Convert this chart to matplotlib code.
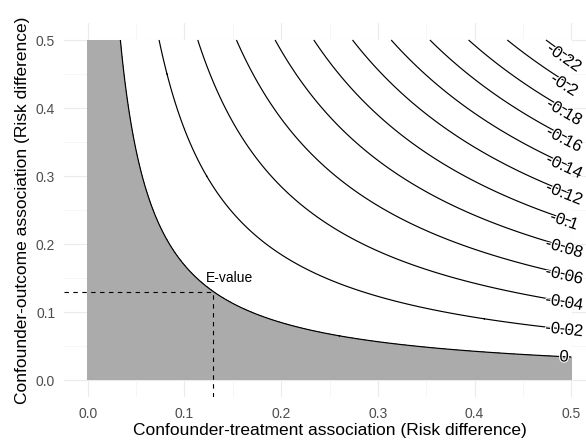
import numpy as np
import matplotlib
matplotlib.use("Agg")
import matplotlib.pyplot as plt
import matplotlib.patheffects as pe

plt.rcParams['font.family'] = ['Liberation Sans', 'DejaVu Sans']

# observed risk difference and its E-value
rd_observed = 0.0169
e_value = 0.13

# contour levels of the bias-adjusted risk difference
contour_levels = [-0.22, -0.2, -0.18, -0.16, -0.14, -0.12, -0.1,
                  -0.08, -0.06, -0.04, -0.02, 0]
contour_labels = ['-0.22', '-0.2', '-0.18', '-0.16', '-0.14', '-0.12', '-0.1',
                  '-0.08', '-0.06', '-0.04', '-0.02', '0']

x_ticks = [0.0, 0.1, 0.2, 0.3, 0.4, 0.5]
y_ticks = [0.0, 0.1, 0.2, 0.3, 0.4, 0.5]
tick_labels = ['0.0', '0.1', '0.2', '0.3', '0.4', '0.5']

# grid of confounder associations
grid = np.linspace(0, 0.5, 501)
xx, yy = np.meshgrid(grid, grid)
adjusted = rd_observed - xx * yy

fig = plt.figure(figsize=(5.86, 4.42), dpi=100)
# panel runs a little past the right edge (image is cropped there)
ax = fig.add_axes([63.5 / 586, 45 / 442, 532 / 586, 374 / 442])
ax.set_xlim(-0.025, 0.525)
ax.set_ylim(-0.025, 0.525)

# theme_minimal-like grid
for v in x_ticks:
    ax.axvline(v, color='#EBEBEB', lw=0.8, zorder=0)
for v in y_ticks:
    ax.axhline(v, color='#EBEBEB', lw=0.8, zorder=0)
for v in np.array(x_ticks[:-1]) + 0.05:
    ax.axvline(v, color='#F2F2F2', lw=0.45, zorder=0)
for v in np.array(y_ticks[:-1]) + 0.05:
    ax.axhline(v, color='#F2F2F2', lw=0.45, zorder=0)

ax.contourf(xx, yy, adjusted, levels=[adjusted.min() - 1, 0, adjusted.max() + 1],
            colors=['white', '#ABABAB'], zorder=1)
cs = ax.contour(xx, yy, adjusted, levels=contour_levels, colors='black',
                linewidths=0.85, linestyles='solid', zorder=2)

# labels at the right-hand end of each contour, rotated along the line
for segs, lab in zip(cs.allsegs, contour_labels):
    pts = np.vstack([s for s in segs if len(s)])
    i = np.argmax(pts[:, 0])
    p_end = pts[i]
    d = np.abs(pts[:, 0] - (p_end[0] - 0.02))
    p_prev = pts[np.argmin(d)]
    a = ax.transData.transform(p_prev)
    b = ax.transData.transform(p_end)
    ang = np.degrees(np.arctan2(b[1] - a[1], b[0] - a[0]))
    ax.text(p_end[0] - 0.0075, p_end[1], lab, rotation=ang, rotation_mode='anchor',
            ha='center', va='center', fontsize=12, color='black', zorder=3,
            clip_on=False,
            path_effects=[pe.withStroke(linewidth=1.5, foreground='white')])

# E-value guide lines
ax.plot([-0.025, e_value], [e_value, e_value], color='black', lw=0.8,
        ls=(0, (4, 4)), zorder=4)
ax.plot([e_value, e_value], [-0.025, e_value], color='black', lw=0.8,
        ls=(0, (4, 4)), zorder=4)
ax.text(0.122, 0.14, 'E-value', ha='left', va='bottom', fontsize=10,
        color='black', zorder=4)

ax.set_xticks(x_ticks)
ax.set_xticklabels(tick_labels)
ax.set_yticks(y_ticks)
ax.set_yticklabels(tick_labels)
ax.tick_params(length=0, labelsize=10, labelcolor='#4D4D4D')
ax.tick_params(axis='x', pad=7)
ax.tick_params(axis='y', pad=6)
for s in ax.spines.values():
    s.set_visible(False)

ax.set_xlabel('Confounder-treatment association (Risk difference)',
              fontsize=12.5, labelpad=2)
ax.set_ylabel('Confounder-outcome association (Risk difference)',
              fontsize=12.5, labelpad=4)

fig.savefig('out.png', dpi=100)
